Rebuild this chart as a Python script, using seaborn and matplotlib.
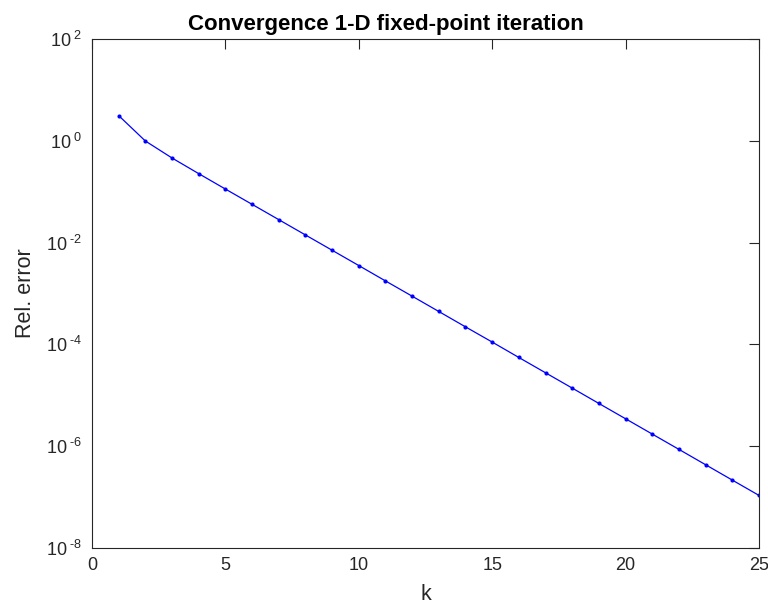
import numpy as np
import pandas as pd
import seaborn as sns
import matplotlib.pyplot as plt
from matplotlib.ticker import FixedLocator, NullLocator

# relative error per iteration
k = list(range(1, 26))
rel_error = [3.16, 1.0, 0.463, 0.228, 0.1135, 0.0568, 0.0284, 0.0142, 0.0071,
             0.00355, 0.00177, 8.87e-4, 4.43e-4, 2.21e-4, 1.11e-4, 5.52e-5,
             2.76e-5, 1.38e-5, 6.88e-6, 3.44e-6, 1.72e-6, 8.6e-7, 4.29e-7,
             2.14e-7, 1.07e-7]
x_ticks = [0, 5, 10, 15, 20, 25]
y_exps = [2, 0, -2, -4, -6, -8]

df = pd.DataFrame({"k": k, "err": rel_error})

sns.set_style("white")
plt.rcParams['font.family'] = ['Liberation Sans', 'DejaVu Sans']
plt.rcParams['mathtext.fontset'] = 'custom'
plt.rcParams['mathtext.rm'] = 'Liberation Sans'
plt.rcParams['mathtext.it'] = 'Liberation Sans'

fig = plt.figure(figsize=(7.68, 6.05), dpi=100)
ax = fig.add_axes([0.1198, 0.0947, 0.8684, 0.8403])

sns.lineplot(data=df, x="k", y="err", ax=ax, color="#0000ff", linewidth=0.9,
             marker="o", markersize=3, markeredgewidth=0)

ax.set_yscale("log")
ax.set_xlim(0, 25)
ax.set_ylim(1e-8, 1e2)
ax.xaxis.set_major_locator(FixedLocator(x_ticks))
ax.yaxis.set_major_locator(FixedLocator([10.0 ** e for e in y_exps]))
ax.yaxis.set_minor_locator(NullLocator())
ax.set_xticklabels([str(t) for t in x_ticks])
ax.set_yticklabels([r"$10^{\ \text{%d}}$" % e for e in y_exps])

grey = "#262626"
for s in ax.spines.values():
    s.set_color(grey)
    s.set_linewidth(0.8)
ax.tick_params(which="both", direction="in", top=True, right=True,
               length=7, width=0.8, color=grey, labelcolor=grey,
               labelsize=13, pad=7)

ax.set_xlabel("k", fontsize=15.5, color=grey, labelpad=7)
ax.set_ylabel("Rel. error", fontsize=15.5, color=grey, labelpad=7)
ax.set_title("Convergence 1-D fixed-point iteration", fontsize=16,
             fontweight="bold", color="black", x=0.44, pad=7)

fig.savefig("out.png", dpi=100)
